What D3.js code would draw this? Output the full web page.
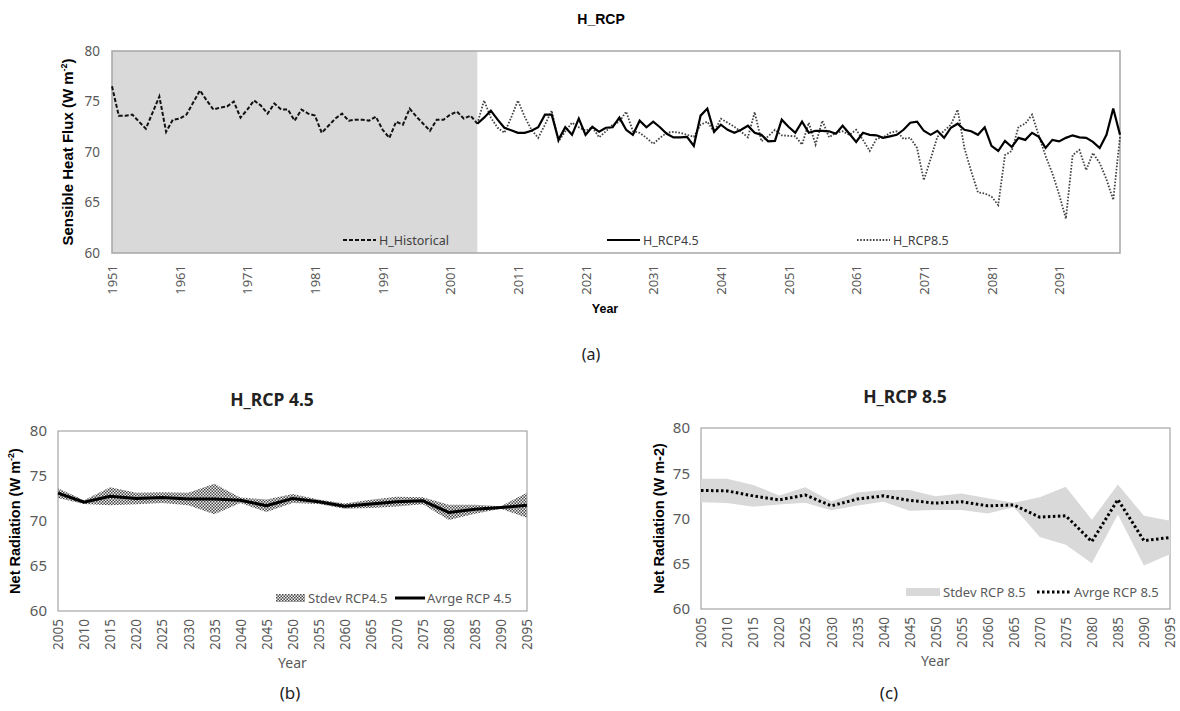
<!DOCTYPE html>
<html>
<head>
<meta charset="utf-8">
<script src="https://cdnjs.cloudflare.com/ajax/libs/d3/7.8.5/d3.min.js"></script>
<style>
body { margin: 0; background: #fff; }
svg text { font-family: "Noto Sans", sans-serif; }
</style>
</head>
<body>
<svg id="fig" width="1180" height="711"></svg>
<script>
// (a) yearly sensible heat flux
var histYears = d3.range(1951, 2006);
var rcpYears = d3.range(2005, 2101);
var allYears = d3.range(1951, 2101);
var topTicks = [1951, 1961, 1971, 1981, 1991, 2001, 2011, 2021, 2031, 2041, 2051, 2061, 2071, 2081, 2091];

var hHistorical = [76.5, 73.6, 73.6, 73.7, 73.0, 72.3, 73.9, 75.5, 72.0, 73.2,
    73.3, 73.7, 74.9, 76.1, 75.1, 74.2, 74.4, 74.5, 75.0, 73.4,
    74.2, 75.1, 74.6, 73.8, 74.8, 74.2, 74.2, 73.1, 74.2, 73.8,
    73.6, 71.9, 72.6, 73.3, 73.8, 73.1, 73.2, 73.2, 73.1, 73.5,
    72.2, 71.4, 73.0, 72.7, 74.3, 73.5, 72.8, 72.1, 73.2, 73.2,
    73.7, 74.0, 73.3, 73.6, 72.8];

var hRcp45 = [72.8, 73.4, 74.1, 73.2, 72.4, 72.15, 71.9, 71.9, 72.1, 72.45,
    73.7, 73.7, 71.2, 72.45, 71.7, 73.3, 71.7, 72.5, 72.0, 72.4,
    72.45, 73.4, 72.2, 71.7, 73.1, 72.45, 73.0, 72.45, 71.8, 71.45,
    71.45, 71.5, 70.6, 73.6, 74.3, 72.0, 72.7, 72.2, 71.9, 72.2,
    72.6, 71.9, 71.7, 71.06, 71.1, 73.2, 72.5, 71.9, 73.0, 71.9,
    72.1, 72.1, 72.05, 71.8, 72.6, 71.8, 71.0, 71.9, 71.7, 71.65,
    71.4, 71.55, 71.7, 72.2, 72.9, 73.0, 72.1, 71.7, 72.1, 71.4,
    72.4, 72.8, 72.2, 72.05, 71.7, 72.45, 70.6, 70.1, 71.1, 70.5,
    71.4, 71.2, 71.9, 71.5, 70.4, 71.2, 71.05, 71.4, 71.65, 71.45,
    71.4, 71.0, 70.4, 71.7, 74.3, 71.7];

var hRcp85 = [72.8, 75.1, 73.4, 72.4, 71.9, 73.4, 75.1, 73.5, 72.2, 71.4,
    72.7, 74.1, 71.05, 72.05, 72.9, 72.45, 72.1, 72.45, 71.45, 72.05,
    72.7, 73.0, 74.0, 72.05, 71.9, 71.4, 70.8, 71.4, 71.9, 72.0,
    71.9, 71.7, 71.5, 72.7, 73.0, 72.0, 73.3, 72.9, 72.5, 72.0,
    71.45, 73.95, 71.06, 71.55, 72.2, 71.65, 71.6, 71.55, 70.73, 72.9,
    70.73, 73.1, 71.45, 71.9, 72.05, 71.7, 72.2, 71.2, 70.1, 71.3,
    71.45, 71.9, 72.05, 71.3, 71.4, 70.4, 67.2, 69.3, 71.5, 72.1,
    72.7, 74.2, 70.4, 68.1, 66.0, 65.9, 65.6, 64.75, 69.7, 70.1,
    72.5, 72.8, 73.7, 71.6, 69.6, 67.9, 65.8, 63.4, 69.7, 70.2,
    68.2, 69.9, 68.9, 67.3, 65.25, 71.5];

// (b), (c) five-year means and standard deviations
var fiveYears = [2005, 2010, 2015, 2020, 2025, 2030, 2035, 2040, 2045, 2050,
    2055, 2060, 2065, 2070, 2075, 2080, 2085, 2090, 2095];
var avgRcp45 = [73.1, 72.1, 72.75, 72.5, 72.6, 72.45, 72.45, 72.3, 71.7, 72.5,
    72.15, 71.65, 71.9, 72.15, 72.25, 70.95, 71.3, 71.5, 71.75];
var sdRcp45 = [0.55, 0.2, 1.0, 0.65, 0.6, 0.7, 1.7, 0.3, 0.7, 0.5,
    0.25, 0.3, 0.45, 0.55, 0.4, 0.85, 0.5, 0.15, 1.4];
var avgRcp85 = [73.1, 73.05, 72.5, 72.05, 72.6, 71.4, 72.15, 72.5, 72.0, 71.7,
    71.85, 71.4, 71.5, 70.15, 70.3, 67.45, 72.1, 67.55, 67.9];
var sdRcp85 = [1.3, 1.35, 1.2, 0.5, 0.85, 0.5, 0.72, 0.65, 1.15, 0.75,
    0.9, 0.85, 0.25, 2.2, 3.2, 2.4, 1.65, 2.75, 1.85];

var yTicks = [60, 65, 70, 75, 80];

var svg = d3.select('#fig');

var defs = svg.append('defs');
var pat = defs.append('pattern')
    .attr('id', 'hatch')
    .attr('width', 3)
    .attr('height', 3)
    .attr('patternUnits', 'userSpaceOnUse');
pat.append('rect').attr('width', 3).attr('height', 3).attr('fill', '#eee');
pat.append('rect').attr('width', 1.5).attr('height', 1.5).attr('fill', '#333');
pat.append('rect').attr('x', 1.5).attr('y', 1.5).attr('width', 1.5).attr('height', 1.5).attr('fill', '#333');

function styleTicks(g, size) {
    g.select('.domain').remove();
    g.selectAll('text')
        .attr('fill', '#595959')
        .style('font-size', size + 'px');
}

function rotateTicks(g, gap) {
    g.selectAll('text')
        .attr('transform', 'rotate(-90)')
        .attr('x', -gap)
        .attr('y', 0)
        .attr('dy', '0.35em')
        .style('text-anchor', 'end');
}

// ---------- (a) H_RCP ----------
var xa = d3.scalePoint().domain(allYears).range([112, 1120]);
var ya = d3.scaleLinear().domain([60, 80]).range([253, 51]);

svg.append('rect')
    .attr('x', xa(1951))
    .attr('y', ya(80))
    .attr('width', xa(2005) - xa(1951))
    .attr('height', ya(60) - ya(80))
    .attr('fill', '#d9d9d9');

svg.append('rect')
    .attr('x', 112).attr('y', 51)
    .attr('width', 1008).attr('height', 202)
    .attr('fill', 'none')
    .attr('stroke', '#a6a6a6')
    .attr('stroke-width', 1.5);

var gya = svg.append('g')
    .attr('transform', 'translate(112,0)')
    .call(d3.axisLeft(ya).tickValues(yTicks).tickSize(0).tickPadding(12));
styleTicks(gya, 13.5);

var gxa = svg.append('g')
    .attr('transform', 'translate(0,253)')
    .call(d3.axisBottom(xa).tickValues(topTicks).tickSize(0));
styleTicks(gxa, 13);
rotateTicks(gxa, 12);

var lineA = d3.line()
    .x(function(d) { return xa(d[0]); })
    .y(function(d) { return ya(d[1]); });

svg.append('path')
    .datum(d3.zip(histYears, hHistorical))
    .attr('d', lineA)
    .attr('fill', 'none')
    .attr('stroke', '#111')
    .attr('stroke-width', 2)
    .attr('stroke-dasharray', '4,2');

svg.append('path')
    .datum(d3.zip(rcpYears, hRcp85))
    .attr('d', lineA)
    .attr('fill', 'none')
    .attr('stroke', '#444')
    .attr('stroke-width', 1.8)
    .attr('stroke-dasharray', '1.6,1.6');

svg.append('path')
    .datum(d3.zip(rcpYears, hRcp45))
    .attr('d', lineA)
    .attr('fill', 'none')
    .attr('stroke', '#000')
    .attr('stroke-width', 2.2);

var legA = [
    {name: 'H_Historical', x: 343, dash: '4,2', color: '#111', w: 2},
    {name: 'H_RCP4.5', x: 607, dash: null, color: '#000', w: 2.2},
    {name: 'H_RCP8.5', x: 857, dash: '1.6,1.6', color: '#444', w: 1.8}
];
legA.forEach(function(d) {
    svg.append('line')
        .attr('x1', d.x).attr('x2', d.x + 33)
        .attr('y1', 240).attr('y2', 240)
        .attr('stroke', d.color)
        .attr('stroke-width', d.w)
        .attr('stroke-dasharray', d.dash);
    svg.append('text')
        .attr('x', d.x + 36).attr('y', 244.5)
        .attr('fill', '#404040')
        .style('font-size', '12.5px')
        .text(d.name);
});

svg.append('text')
    .attr('x', 601).attr('y', 24)
    .attr('text-anchor', 'middle')
    .style('font-family', '"Liberation Sans", Arial, sans-serif')
    .style('font-weight', 'bold')
    .style('font-size', '14px')
    .text('H_RCP');

var ylabA = svg.append('text')
    .attr('transform', 'translate(73,152) rotate(-90)')
    .attr('text-anchor', 'middle')
    .style('font-family', '"Liberation Sans", Arial, sans-serif')
    .style('font-weight', 'bold')
    .style('font-size', '15px');
ylabA.append('tspan').text('Sensible Heat Flux (W m');
ylabA.append('tspan').attr('dy', -6).style('font-size', '9px').text('-2');
ylabA.append('tspan').attr('dy', 6).text(')');

svg.append('text')
    .attr('x', 605).attr('y', 313)
    .attr('text-anchor', 'middle')
    .style('font-family', '"Liberation Sans", Arial, sans-serif')
    .style('font-weight', 'bold')
    .style('font-size', '12.5px')
    .text('Year');

svg.append('text')
    .attr('x', 591).attr('y', 360)
    .attr('text-anchor', 'middle')
    .attr('fill', '#222')
    .style('font-size', '16px')
    .text('(a)');

// ---------- (b), (c) ----------
function drawPanel(p) {
    var x = d3.scalePoint().domain(fiveYears).range([p.left, p.right]);
    var y = d3.scaleLinear().domain([60, 80]).range([p.bottom, p.top]);
    var rows = fiveYears.map(function(yr, i) {
        return {year: yr, avg: p.avg[i], sd: p.sd[i]};
    });

    svg.append('rect')
        .attr('x', p.left).attr('y', p.top)
        .attr('width', p.right - p.left).attr('height', p.bottom - p.top)
        .attr('fill', 'none')
        .attr('stroke', '#a6a6a6')
        .attr('stroke-width', 1.2);

    var gy = svg.append('g')
        .attr('transform', 'translate(' + p.left + ',0)')
        .call(d3.axisLeft(y).tickValues(yTicks).tickSize(0).tickPadding(11));
    styleTicks(gy, 15);

    var gx = svg.append('g')
        .attr('transform', 'translate(0,' + p.bottom + ')')
        .call(d3.axisBottom(x).tickSize(0));
    styleTicks(gx, 13.5);
    rotateTicks(gx, 8);

    var band = d3.area()
        .x(function(d) { return x(d.year); })
        .y0(function(d) { return y(d.avg - d.sd); })
        .y1(function(d) { return y(d.avg + d.sd); });

    svg.append('path')
        .datum(rows)
        .attr('d', band)
        .attr('fill', p.bandFill)
        .attr('opacity', p.bandOpacity);

    svg.append('path')
        .datum(rows)
        .attr('d', d3.line()
            .x(function(d) { return x(d.year); })
            .y(function(d) { return y(d.avg); }))
        .attr('fill', 'none')
        .attr('stroke', '#000')
        .attr('stroke-width', p.lineWidth)
        .attr('stroke-dasharray', p.dash);

    // legend
    svg.append('rect')
        .attr('x', p.leg[0]).attr('y', p.legY - 4)
        .attr('width', p.leg[1] - p.leg[0]).attr('height', 8)
        .attr('fill', p.bandFill)
        .attr('opacity', p.bandOpacity);
    svg.append('text')
        .attr('x', p.leg[1] + 3).attr('y', p.legY + 5)
        .attr('fill', '#595959')
        .style('font-size', '13px')
        .text(p.bandName);
    svg.append('line')
        .attr('x1', p.leg[2]).attr('x2', p.leg[3])
        .attr('y1', p.legY).attr('y2', p.legY)
        .attr('stroke', '#000')
        .attr('stroke-width', p.lineWidth)
        .attr('stroke-dasharray', p.dash);
    svg.append('text')
        .attr('x', p.leg[3] + 2).attr('y', p.legY + 5)
        .attr('fill', '#595959')
        .style('font-size', '13px')
        .text(p.lineName);

    svg.append('text')
        .attr('x', p.titleX).attr('y', p.top - 25)
        .attr('text-anchor', 'middle')
        .attr('fill', '#222')
        .style('font-weight', 'bold')
        .style('font-size', '17.5px')
        .text(p.title);

    var yl = svg.append('text')
        .attr('transform', 'translate(' + p.ylabX + ',' + ((p.top + p.bottom) / 2) + ') rotate(-90)')
        .attr('text-anchor', 'middle')
        .style('font-family', '"Liberation Sans", Arial, sans-serif')
        .style('font-weight', 'bold')
        .style('font-size', '14.5px');
    if (p.sup) {
        yl.append('tspan').text('Net Radiation (W m');
        yl.append('tspan').attr('dy', -6).style('font-size', '9px').text('-2');
        yl.append('tspan').attr('dy', 6).text(')');
    } else {
        yl.text('Net Radiation (W m-2)');
    }

    svg.append('text')
        .attr('x', (p.left + p.right) / 2).attr('y', p.bottom + 57)
        .attr('text-anchor', 'middle')
        .attr('fill', '#595959')
        .style('font-size', '14px')
        .text('Year');

    svg.append('text')
        .attr('x', p.capX).attr('y', 699)
        .attr('text-anchor', 'middle')
        .attr('fill', '#222')
        .style('font-size', '17px')
        .text(p.cap);
}

drawPanel({
    left: 58, right: 527, top: 431, bottom: 611,
    avg: avgRcp45, sd: sdRcp45,
    bandFill: 'url(#hatch)', bandOpacity: 0.9,
    lineWidth: 3, dash: null,
    leg: [276, 305, 395, 425], legY: 598,
    bandName: 'Stdev RCP4.5', lineName: 'Avrge RCP 4.5',
    title: 'H_RCP 4.5', titleX: 272, ylabX: 20, sup: true,
    cap: '(b)', capX: 290
});

drawPanel({
    left: 701, right: 1170, top: 428, bottom: 609,
    avg: avgRcp85, sd: sdRcp85,
    bandFill: '#d9d9d9', bandOpacity: 1,
    lineWidth: 3, dash: '2.5,2.5',
    leg: [906, 940, 1037, 1072], legY: 592,
    bandName: 'Stdev RCP 8.5', lineName: 'Avrge RCP 8.5',
    title: 'H_RCP 8.5', titleX: 905, ylabX: 664, sup: false,
    cap: '(c)', capX: 889
});
</script>
</body>
</html>
